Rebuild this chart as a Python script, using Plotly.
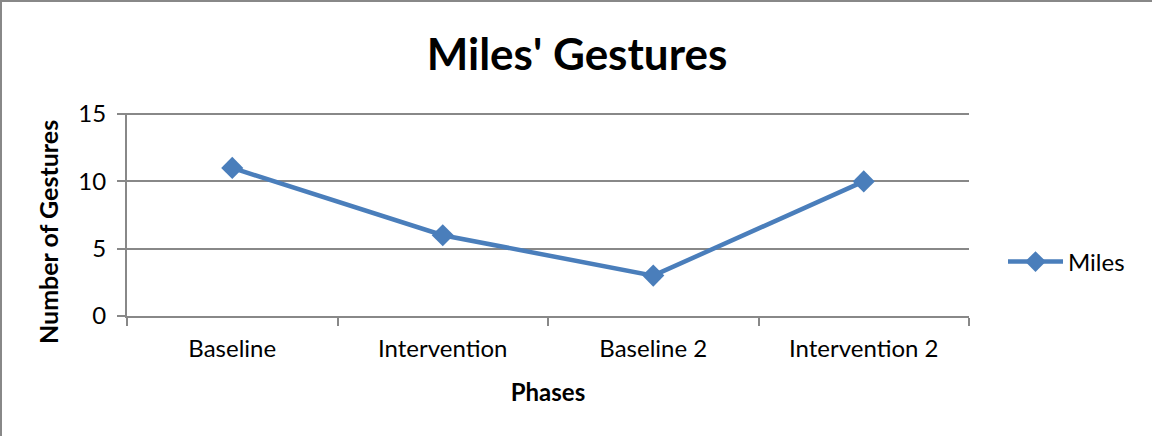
import plotly.graph_objects as go

phases = ["Baseline", "Intervention", "Baseline 2", "Intervention 2"]
miles = [11, 6, 3, 10]

W, H = 1152, 436
L, R, T, B = 127, 1152 - 969, 113, 436 - 316
pw, ph = W - L - R, H - T - B


def px(x):
    return (x - L) / pw


def py(y):
    return (H - B - y) / ph


fig = go.Figure()
fig.add_trace(go.Scatter(
    x=phases, y=miles, mode="lines+markers", name="Miles",
    line=dict(color="#4A7EBB", width=4.5),
    marker=dict(symbol="diamond", size=17, color="#4A7EBB"),
))

fnt = "Lato, Calibri, Carlito, sans-serif"
fig.update_layout(
    width=W, height=H,
    margin=dict(l=L, r=R, t=T, b=B),
    paper_bgcolor="white", plot_bgcolor="white",
    font=dict(family=fnt, size=24, color="black"),
    title=dict(text="<b>Miles' Gestures</b>", x=577 / W, xanchor="center",
               y=1 - 55 / H, yanchor="middle", font=dict(size=44, family=fnt)),
    xaxis=dict(type="category", range=[-0.5, 3.5], tickson="boundaries",
               ticks="outside", ticklen=8, tickcolor="#888", tickwidth=2, showline=True,
               linecolor="#888", linewidth=2, showgrid=False, ticklabelstandoff=10,
               title=dict(text="<b>Phases</b>", font=dict(size=24), standoff=23),
               tickfont=dict(size=24)),
    yaxis=dict(range=[0, 15.08], tickvals=[0, 5, 10, 15], ticks="outside", ticklen=8,
               tickcolor="#888", tickwidth=2, showline=True, linecolor="#888", linewidth=2,
               showgrid=True, gridcolor="#888", gridwidth=1.5, zeroline=False,
               ticklabelstandoff=6, tickfont=dict(size=24)),
    legend=dict(x=px(1003), y=py(262), xanchor="left", yanchor="middle",
                font=dict(size=24), bgcolor="rgba(0,0,0,0)", itemwidth=55),
    showlegend=True,
)
fig.add_annotation(text="<b>Number of Gestures</b>", textangle=-90, showarrow=False,
                   xref="paper", yref="paper", x=px(48), y=py(232),
                   xanchor="center", yanchor="middle", font=dict(size=25))
fig.add_shape(type="line", xref="paper", yref="paper",
              x0=px(1), x1=px(1), y0=py(H), y1=py(0),
              line=dict(color="#888", width=2))
fig.add_shape(type="line", xref="paper", yref="paper",
              x0=px(0), x1=px(W), y0=py(1), y1=py(1),
              line=dict(color="#888", width=2))

fig.write_html("out.html", config={"displayModeBar": False},
               post_script="document.body.style.margin='0';document.body.style.overflow='hidden';")
